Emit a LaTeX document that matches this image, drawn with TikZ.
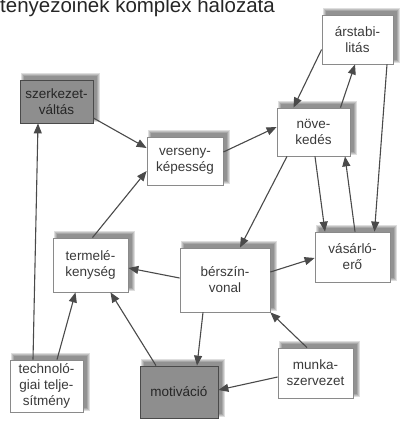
\documentclass[tikz,border=0pt]{standalone}
\usepackage{fontspec}
\setmainfont{Liberation Sans}
\usetikzlibrary{arrows.meta,calc,backgrounds}
\definecolor{ink}{HTML}{3A3A3A}
\definecolor{edge}{HTML}{4A4A4A}
\definecolor{frame}{HTML}{8A8A8A}
\definecolor{darkfill}{HTML}{8E8E8E}
\begin{document}
\begin{tikzpicture}[x=1pt,y=-1pt,
  box/.style={draw=frame, line width=0.8pt, fill=white, align=center, text=ink,
    font=\fontsize{13.5}{16}\selectfont, inner sep=2pt},
  darkbox/.style={box, fill=darkfill, draw=edge, text=black!85},
  link/.style={draw=edge, line width=1.1pt, -{Triangle[length=10pt,width=8pt]}},
]
\useasboundingbox (0,0) rectangle (407,424);

% heading, partly cut by the top edge
\node[anchor=base west, inner sep=0pt, font=\fontsize{20.5}{24}\selectfont, text=black!85] (title) at (0,12) {tényezőinek komplex hálózata};

% factor boxes
\node[darkbox, minimum width=73pt, minimum height=43pt] (szerk)   at (56.5,101.5) {szerkezet-\\váltás};
\node[box, minimum width=71pt, minimum height=49pt]     (arstab)  at (357.5,39.5) {árstabi-\\litás};
\node[box, minimum width=73pt, minimum height=48pt]     (novek)   at (313.5,132)  {növe-\\kedés};
\node[box, minimum width=76pt, minimum height=48pt]     (verseny) at (185,161)    {verseny-\\képesség};
\node[box, minimum width=75pt, minimum height=54pt]     (termel)  at (90.5,265)   {termelé-\\kenység};
\node[box, minimum width=90pt, minimum height=64pt]     (bersz)   at (225,280)    {bérszín-\\vonal};
\node[box, minimum width=75pt, minimum height=50pt]     (vasar)   at (352.5,257)  {vásárló-\\erő};
\node[box, minimum width=73pt, minimum height=52pt]     (techn)   at (46.5,386)   {technoló-\\giai telje-\\sítmény};
\node[darkbox, minimum width=78pt, minimum height=52pt] (motiv)   at (179,392)    {motiváció};
\node[box, minimum width=75pt, minimum height=50pt]     (munka)   at (315.5,373)  {munka-\\szervezet};

% soft shadows, offset up and to the right
\begin{scope}[on background layer]
\foreach \n in {szerk,arstab,novek,verseny,termel,bersz,vasar,techn,motiv,munka}{
  \foreach \r in {0,1,2,3}{
    \fill[black, opacity=0.13]
      ($(\n.south west)+(4-\r,-4+\r)$) rectangle ($(\n.north east)+(4+\r,-4-\r)$);
  }
}
\end{scope}

% influences
\draw[link] ($(szerk.east)+(0,16.5)$)   -- ($(verseny.west)+(0,-13)$);
\draw[link] ($(techn.north)+(-13.5,0)$) -- ($(szerk.south)+(-18.5,0)$);
\draw[link] ($(techn.north)+(10.5,0)$)  -- ($(termel.south)+(-15,0)$);
\draw[link] ($(termel.north)+(2,0)$)    -- ($(verseny.west)+(0,10)$);
\draw[link] ($(verseny.east)+(0,-9)$)   -- ($(novek.west)+(0,-5)$);
\draw[link] ($(arstab.west)+(0,10)$)    -- ($(novek.north)+(-20,0)$);
\draw[link] ($(novek.north)+(27,0)$)    -- ($(arstab.south)+(-2.5,0)$);
\draw[link] ($(arstab.south)+(29.5,0)$) -- ($(vasar.north)+(22,0)$);
\draw[link] ($(novek.south)+(1.5,0)$)   -- ($(vasar.north)+(-27.5,0)$);
\draw[link] ($(vasar.north)+(2.5,0)$)   -- ($(novek.south)+(31.5,0)$);
\draw[link] ($(novek.south)+(-26.5,0)$) -- ($(bersz.north)+(15,0)$);
\draw[link] ($(bersz.east)+(0,-8)$)     -- ($(vasar.west)+(0,1)$);
\draw[link] ($(bersz.west)+(0,-2)$)     -- ($(termel.east)+(0,3)$);
\draw[link] ($(bersz.south)+(-22,0)$)   -- ($(motiv.north)+(18,0)$);
\draw[link] ($(motiv.north)+(-23,0)$)   -- ($(termel.south)+(20,0)$);
\draw[link] ($(munka.north)+(-8.5,0)$)  -- (bersz.south east);
\draw[link] ($(munka.west)+(0,4)$)      -- ($(motiv.east)+(0,-2)$);
\end{tikzpicture}
\end{document}
